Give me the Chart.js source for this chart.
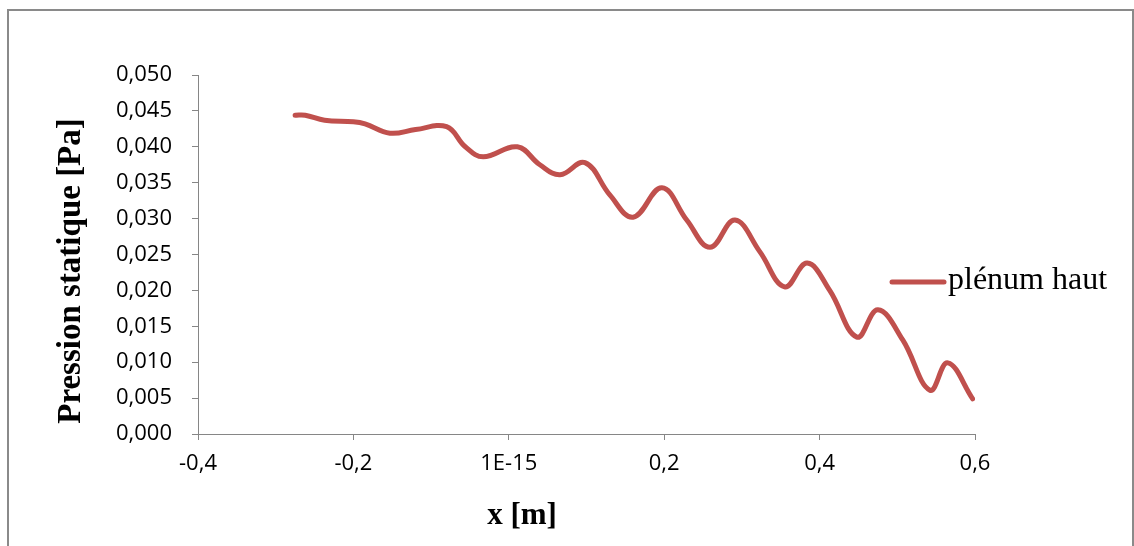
<!DOCTYPE html>
<html>
<head>
<meta charset="utf-8">
<script src="https://cdn.jsdelivr.net/npm/chart.js@4/dist/chart.umd.min.js"></script>
<style>
  body { margin: 0; background: #fff; }
  #frame { position: absolute; left: 7px; top: 9px; width: 1123px; height: 560px; border: 2px solid #8a8a8a; }
  #chart { position: absolute; left: 0; top: 0; }
</style>
</head>
<body>
<div id="frame"></div>
<canvas id="chart" width="1134" height="546"></canvas>
<script>
// values
var seriesName = "plénum haut";
var xValues = [-0.275, -0.262, -0.237, -0.200, -0.185, -0.153, -0.120, -0.080, -0.056, -0.033,
  0.011, 0.040, 0.066, 0.098, 0.130, 0.160, 0.197, 0.229, 0.259, 0.291,
  0.323, 0.355, 0.384, 0.413, 0.448, 0.475, 0.507, 0.542, 0.565, 0.597];
var yValues = [0.0444, 0.0444, 0.0437, 0.0435, 0.0432, 0.0419, 0.0424, 0.0428, 0.0400, 0.0386,
  0.0400, 0.0375, 0.0361, 0.0378, 0.0333, 0.0302, 0.0343, 0.0298, 0.0260, 0.0298,
  0.0254, 0.0205, 0.0238, 0.0200, 0.0135, 0.0173, 0.0131, 0.0061, 0.0099, 0.0049];
var xTickLabels = ["-0,4", "-0,2", "1E-15", "0,2", "0,4", "0,6"];
var yTickLabels = ["0,000", "0,005", "0,010", "0,015", "0,020", "0,025",
  "0,030", "0,035", "0,040", "0,045", "0,050"];
var xTitle = "x [m]";
var yTitle = "Pression statique [Pa]";

var points = xValues.map(function (x, i) {
  return { x: x, y: yValues[i] };
});

// axis titles and legend, drawn by hand so they sit where the original has them
var extras = {
  id: "extras",
  afterDraw: function (chart) {
    var ctx = chart.ctx;
    var area = chart.chartArea;
    ctx.save();
    ctx.fillStyle = "#000";
    ctx.textAlign = "center";
    ctx.textBaseline = "middle";
    ctx.font = "bold 31px 'Liberation Serif'";
    ctx.fillText(xTitle, area.left + 324, 516);
    ctx.font = "bold 33px 'Liberation Serif'";
    ctx.translate(71, area.top + 196);
    ctx.rotate(-Math.PI / 2);
    ctx.fillText(yTitle, 0, 0);
    ctx.restore();

    // legend
    var ds = chart.data.datasets[0];
    ctx.save();
    ctx.strokeStyle = ds.borderColor;
    ctx.lineWidth = 5;
    ctx.lineCap = "round";
    ctx.beginPath();
    ctx.moveTo(area.right - 83, 282);
    ctx.lineTo(area.right - 31, 282);
    ctx.stroke();
    ctx.fillStyle = "#000";
    ctx.font = "32px 'Liberation Serif'";
    ctx.textAlign = "left";
    ctx.textBaseline = "middle";
    ctx.fillText(ds.label, area.right - 27, 281);
    ctx.restore();
  }
};

new Chart(document.getElementById("chart"), {
  type: "line",
  data: {
    datasets: [
      {
        label: seriesName,
        data: points,
        borderColor: "#C0504D",
        borderWidth: 5,
        borderCapStyle: "round",
        borderJoinStyle: "round",
        pointRadius: 0,
        tension: 0.4,
        fill: false,
      },
    ],
  },
  options: {
    responsive: false,
    animation: false,
    devicePixelRatio: 1,
    layout: { padding: { left: 0, top: 75, right: 159, bottom: 0 } },
    plugins: { legend: { display: false }, tooltip: { enabled: false } },
    scales: {
      x: {
        type: "linear",
        min: -0.4,
        max: 0.6,
        ticks: {
          stepSize: 0.2,
          padding: 11,
          color: "#000",
          font: { family: "'Open Sans'", size: 22 },
          maxRotation: 0,
          callback: function (value, index) {
            return xTickLabels[index];
          },
        },
        grid: { drawOnChartArea: false, drawTicks: true, tickLength: 6, color: "#868686" },
        border: { display: true, color: "#868686", width: 1 },
        afterFit: function (scale) {
          scale.height = 112;
        },
      },
      y: {
        min: 0,
        max: 0.05,
        ticks: {
          stepSize: 0.005,
          padding: 20,
          color: "#000",
          font: { family: "'Open Sans'", size: 22 },
          callback: function (value, index) {
            return yTickLabels[index];
          },
        },
        grid: { drawOnChartArea: false, drawTicks: true, tickLength: 6, color: "#868686" },
        border: { display: true, color: "#868686", width: 1 },
        afterFit: function (scale) {
          scale.width = 198;
        },
      },
    },
  },
  plugins: [extras],
});
</script>
</body>
</html>
